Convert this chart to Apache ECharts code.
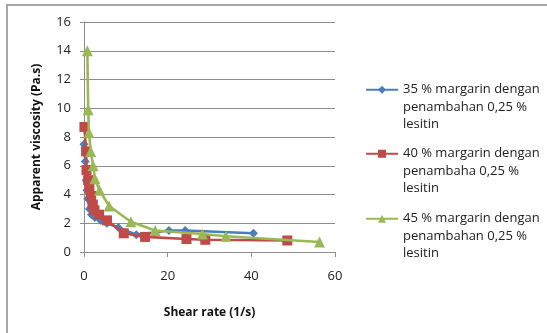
<!DOCTYPE html>
<html>
<head>
<meta charset="utf-8">
<script src="https://cdn.jsdelivr.net/npm/echarts@6/dist/echarts.min.js"></script>
<style>
  html, body { margin: 0; padding: 0; background: #ffffff; }
  #chart { width: 547px; height: 333px; }
</style>
</head>
<body>
<div id="chart"></div>
<script>
// Series names (legend labels)
const seriesNames = [
  '35 % margarin dengan penambahan 0,25 % lesitin',
  '40 % margarin dengan penambaha 0,25 % lesitin',
  '45 % margarin dengan penambahan 0,25 % lesitin'
];
// Legend text, broken into lines; two leading blank lines keep the
// symbol level with the first line of text
const legendLines = [
  '\n\n35 % margarin dengan\npenambahan 0,25 %\nlesitin',
  '\n\n40 % margarin dengan\npenambaha 0,25 %\nlesitin',
  '\n\n45 % margarin dengan\npenambahan 0,25 %\nlesitin'
];

// Shear rate (1/s) and apparent viscosity (Pa.s) for each blend
const shear35 = [0.0, 0.3, 0.5, 0.7, 0.9, 1.3, 1.8, 2.6, 4.0, 5.5, 8.2, 12.5, 20.3, 24.2, 40.5];
const visc35  = [7.5, 6.3, 5.0, 4.3, 3.7, 3.0, 2.6, 2.4, 2.2, 2.0, 1.7, 1.2, 1.5, 1.5, 1.3];

const shear40 = [0.1, 0.5, 0.6, 1.0, 1.3, 1.7, 2.1, 2.5, 3.6, 5.5, 9.5, 14.6, 24.5, 29.0, 48.6];
const visc40  = [8.7, 7.0, 5.7, 5.0, 4.4, 3.9, 3.3, 2.9, 2.6, 2.2, 1.3, 1.05, 0.9, 0.85, 0.8];

const shear45 = [0.8, 1.0, 1.2, 1.6, 2.2, 2.6, 3.7, 6.0, 11.2, 17.0, 28.3, 33.9, 56.3];
const visc45  = [14.0, 9.9, 8.3, 7.0, 6.0, 5.1, 4.3, 3.2, 2.1, 1.5, 1.25, 1.1, 0.7];

// Axis ranges
const xMin = 0, xMax = 60, xStep = 20;
const yMin = 0, yMax = 16, yStep = 2;

const colors = ['#4a7ebb', '#be4b48', '#98b954'];
const symbols = ['diamond', 'rect', 'triangle'];
const symbolSizes = [9, 10, 11];
const shears = [shear35, shear40, shear45];
const viscs = [visc35, visc40, visc45];

const FONT = '"Open Sans", "DejaVu Sans", sans-serif';
const chart = echarts.init(document.getElementById('chart'), null, { renderer: 'canvas' });

const series = seriesNames.map((name, i) => ({
  name: name,
  type: 'line',
  data: shears[i].map((x, k) => [x, viscs[i][k]]),
  symbol: symbols[i],
  symbolSize: symbolSizes[i],
  lineStyle: { color: colors[i], width: 2.6 },
  itemStyle: { color: colors[i] },
  z: 2 + i,
  animation: false
}));

const legendTops = [46, 110, 175];
const legends = seriesNames.map((name, i) => ({
  data: [name],
  left: 365,
  top: legendTops[i],
  orient: 'vertical',
  itemWidth: 32,
  itemHeight: 10,
  itemGap: 0,
  padding: 0,
  selectedMode: false,
  formatter: () => legendLines[i],
  textStyle: {
    fontFamily: FONT,
    fontSize: 13,
    color: '#222',
    lineHeight: 17.5
  }
}));

chart.setOption({
  animation: false,
  backgroundColor: '#ffffff',
  color: colors,
  grid: { left: 84, top: 22, width: 251, height: 230, containLabel: false },
  legend: legends,
  xAxis: {
    type: 'value',
    min: xMin, max: xMax, interval: xStep,
    name: 'Shear rate (1/s)',
    nameLocation: 'middle',
    nameGap: 55,
    nameTextStyle: { fontFamily: FONT, fontSize: 12, fontWeight: 'bold', color: '#111' },
    axisLine: { show: true, lineStyle: { color: '#8c8c8c', width: 1 } },
    axisTick: { show: true, length: 5, lineStyle: { color: '#8c8c8c' } },
    axisLabel: { fontFamily: FONT, fontSize: 13, color: '#222', margin: 18 },
    splitLine: { show: false }
  },
  yAxis: {
    type: 'value',
    min: yMin, max: yMax, interval: yStep,
    name: 'Apparent viscosity (Pa.s)',
    nameLocation: 'middle',
    nameGap: 41,
    nameTextStyle: { fontFamily: FONT, fontSize: 12, fontWeight: 'bold', color: '#111' },
    axisLine: { show: true, lineStyle: { color: '#8c8c8c', width: 1 } },
    axisTick: { show: true, length: 4, lineStyle: { color: '#8c8c8c' } },
    axisLabel: { fontFamily: FONT, fontSize: 13, color: '#222', margin: 13 },
    splitLine: { show: true, lineStyle: { color: '#8c8c8c', width: 1 } }
  },
  graphic: [{
    type: 'rect',
    shape: { x: 7, y: 5, width: 700, height: 500 },
    style: { fill: 'none', stroke: '#a6a6a6', lineWidth: 2 },
    silent: true,
    z: -1
  }],
  series: series
});
</script>
</body>
</html>
